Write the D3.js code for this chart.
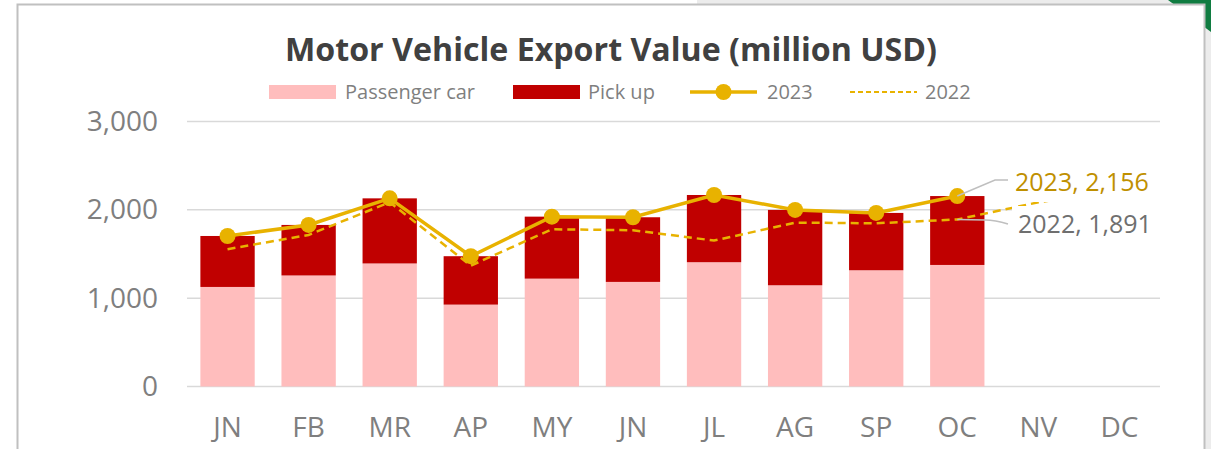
<!DOCTYPE html>
<html>
<head>
<meta charset="utf-8">
<script src="https://cdn.jsdelivr.net/npm/d3@7"></script>
<style>
  body { margin: 0; background: #fff; }
  svg { display: block; font-family: "Open Sans", "Noto Sans", sans-serif; }
</style>
</head>
<body>
<svg width="1211" height="449"></svg>
<script>
var months = ["JN", "FB", "MR", "AP", "MY", "JN ", "JL", "AG", "SP", "OC", "NV", "DC"];
var passenger = [1127, 1257, 1393, 927, 1221, 1184, 1407, 1146, 1316, 1376];
var pickup = [577, 572, 737, 548, 702, 732, 761, 853, 649, 780];
var y2023 = [1704, 1829, 2130, 1475, 1923, 1916, 2168, 1999, 1965, 2156];
var y2022 = [1554, 1716, 2086, 1368, 1780, 1769, 1652, 1855, 1848, 1891, 2085, 2230];
var yTicks = [0, 1000, 2000, 3000];

var gold = "#e8b200";
var svg = d3.select("svg");
var width = 1211, height = 449;

// window chrome around the chart box
svg.append("rect").attr("x", 1205).attr("y", 0).attr("width", 6).attr("height", height).attr("fill", "#ececec");
svg.append("rect").attr("x", 697).attr("y", 0).attr("width", 514).attr("height", 4).attr("fill", "#ececec");
svg.append("path").attr("d", "M1168,0 L1211,0 L1211,32 Z").attr("fill", "#107c41");
svg.append("rect")
    .attr("x", 17.5).attr("y", 4.5)
    .attr("width", 1187).attr("height", 470)
    .attr("fill", "#fff")
    .attr("stroke", "#c0c0c0")
    .attr("stroke-width", 2);

var x = d3.scaleBand()
    .domain(months)
    .range([187, 1160])
    .paddingInner(0.33)
    .paddingOuter(0.165);

var y = d3.scaleLinear()
    .domain([0, 3000])
    .range([386.5, 121.5]);

// gridlines
svg.append("g")
    .selectAll("line")
    .data(yTicks)
    .enter().append("line")
    .attr("x1", 187).attr("x2", 1160)
    .attr("y1", function(d) { return y(d); })
    .attr("y2", function(d) { return y(d); })
    .attr("stroke", "#d9d9d9")
    .attr("stroke-width", 1.5);

// y labels
var yAxis = svg.append("g")
    .attr("transform", "translate(158,0)")
    .call(d3.axisLeft(y).tickValues(yTicks).tickSize(0).tickPadding(0).tickFormat(d3.format(",")));
yAxis.select(".domain").remove();
yAxis.selectAll("text")
    .attr("fill", "#7f7f7f")
    .style("font-size", "28px")
    .style("font-family", "Open Sans");

// x labels
var xAxis = svg.append("g")
    .attr("transform", "translate(0,386.5)")
    .call(d3.axisBottom(x).tickSize(0).tickPadding(31));
xAxis.select(".domain").remove();
xAxis.selectAll("text")
    .text(function(d) { return d.trim(); })
    .attr("fill", "#7f7f7f")
    .style("font-size", "28px")
    .style("font-family", "Open Sans");

// stacked bars
var stackData = passenger.map(function(p, i) {
    return { month: months[i], passenger: p, pickup: pickup[i] };
});
var series = d3.stack().keys(["passenger", "pickup"])(stackData);
var barColor = { passenger: "#ffbdbd", pickup: "#c00000" };

svg.append("g")
    .selectAll("g")
    .data(series)
    .enter().append("g")
    .attr("fill", function(s) { return barColor[s.key]; })
    .selectAll("rect")
    .data(function(s) { return s; })
    .enter().append("rect")
    .attr("x", function(d) { return x(d.data.month); })
    .attr("y", function(d) { return y(d[1]); })
    .attr("width", x.bandwidth())
    .attr("height", function(d) { return y(d[0]) - y(d[1]); });

var cx = function(d, i) { return x(months[i]) + x.bandwidth() / 2; };

// 2022 dashed
svg.append("path")
    .datum(y2022)
    .attr("fill", "none")
    .attr("stroke", gold)
    .attr("stroke-width", 2.5)
    .attr("stroke-dasharray", "8,5")
    .attr("d", d3.line().x(cx).y(function(d) { return y(d); }));

// 2023 line + dots
svg.append("path")
    .datum(y2023)
    .attr("fill", "none")
    .attr("stroke", gold)
    .attr("stroke-width", 3.5)
    .attr("d", d3.line().x(cx).y(function(d) { return y(d); }));

svg.append("g")
    .selectAll("circle")
    .data(y2023)
    .enter().append("circle")
    .attr("cx", cx)
    .attr("cy", function(d) { return y(d); })
    .attr("r", 8)
    .attr("fill", gold);

// end labels with leader lines
var last = y2023.length - 1;
var lx = cx(null, last);
svg.append("path")
    .attr("d", "M" + lx + "," + y(y2023[last]) + " L995,180 L1008,180")
    .attr("fill", "none").attr("stroke", "#bfbfbf").attr("stroke-width", 1.5);
svg.append("path")
    .attr("d", "M" + lx + "," + y(y2022[last]) + " L985,220 Q995,220 1008,224")
    .attr("fill", "none").attr("stroke", "#bfbfbf").attr("stroke-width", 1.5);

svg.append("rect").attr("x", 1010).attr("y", 168).attr("width", 148).attr("height", 34).attr("fill", "#fff");
svg.append("rect").attr("x", 1012).attr("y", 206).attr("width", 148).attr("height", 34).attr("fill", "#fff");

svg.append("text")
    .attr("x", 1015).attr("y", 191)
    .attr("fill", "#bf9000")
    .style("font-size", "25px")
    .text("2023, " + d3.format(",")(y2023[last]));
svg.append("text")
    .attr("x", 1018).attr("y", 233)
    .attr("fill", "#6f6f6f")
    .style("font-size", "25px")
    .text("2022, " + d3.format(",")(y2022[9]));

// title
var title = svg.append("text")
    .attr("x", 611).attr("y", 61)
    .attr("text-anchor", "middle")
    .attr("fill", "#404040")
    .style("font-size", "32px")
    .style("font-weight", "bold")
    .text("Motor Vehicle Export Value (million USD)");
title.attr("textLength", 652).attr("lengthAdjust", "spacingAndGlyphs");

// legend
var legend = svg.append("g").style("font-size", "20px").attr("fill", "#7f7f7f");
legend.append("rect").attr("x", 269).attr("y", 85).attr("width", 67).attr("height", 14).attr("fill", barColor.passenger);
legend.append("text").attr("x", 345).attr("y", 99).text("Passenger car");
legend.append("rect").attr("x", 513).attr("y", 85).attr("width", 67).attr("height", 14).attr("fill", barColor.pickup);
legend.append("text").attr("x", 588).attr("y", 99).text("Pick up");
legend.append("line").attr("x1", 690).attr("x2", 757).attr("y1", 92).attr("y2", 92)
    .attr("stroke", gold).attr("stroke-width", 3.5);
legend.append("circle").attr("cx", 723.5).attr("cy", 92).attr("r", 8).attr("fill", gold);
legend.append("text").attr("x", 767).attr("y", 99).text("2023");
legend.append("line").attr("x1", 850).attr("x2", 917).attr("y1", 92).attr("y2", 92)
    .attr("stroke", gold).attr("stroke-width", 2).attr("stroke-dasharray", "5,3");
legend.append("text").attr("x", 925).attr("y", 99).text("2022");
</script>
</body>
</html>
